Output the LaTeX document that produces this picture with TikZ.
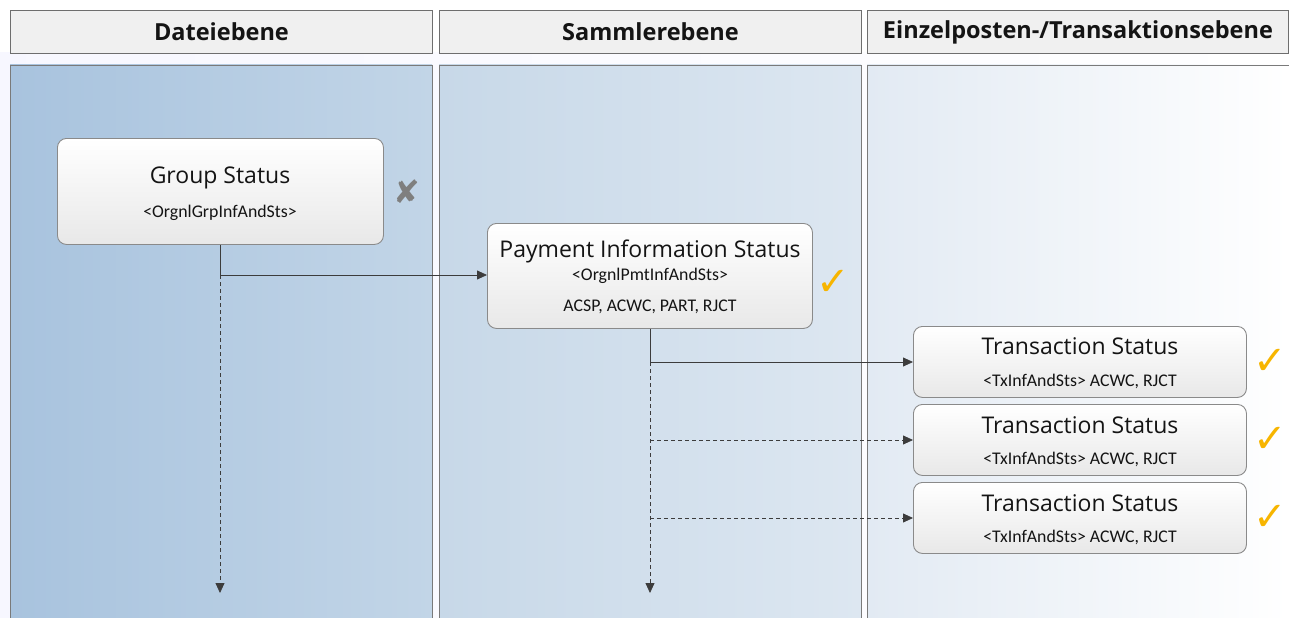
\documentclass[tikz,border=0pt]{standalone}
\usepackage{fontspec}
\setmainfont{Open Sans}
\newfontfamily\subfont{Carlito}
\newfontfamily\symfont{DejaVu Sans}
\usetikzlibrary{arrows.meta}
\definecolor{hdrfill}{HTML}{F0F0F0}
\definecolor{hdrline}{HTML}{6E6E6E}
\definecolor{colline}{HTML}{7A7A7A}
\definecolor{boxline}{HTML}{8A8A8A}
\definecolor{arrowc}{HTML}{3C3C3C}
\definecolor{okc}{HTML}{F7B500}
\definecolor{nokc}{HTML}{7F7F7F}
\definecolor{txtc}{HTML}{141414}
\tikzset{
  hdr/.style={draw=hdrline, fill=hdrfill, line width=0.9pt, minimum width=422pt, minimum height=43pt, anchor=north west, inner sep=0pt,
    text=txtc, font=\fontsize{23.5}{27}\selectfont\bfseries},
  lane/.style={draw=colline, line width=0.9pt},
  box/.style={draw=boxline, line width=0.9pt, rounded corners=9pt, top color=white, bottom color=black!9, anchor=north west, inner sep=0pt},
  ttl/.style={text=txtc, font=\fontsize{23}{27}\selectfont, inner sep=0pt, anchor=base},
  sub/.style={text=txtc, font=\subfont\fontsize{17.8}{21}\selectfont, inner sep=0pt, anchor=base},
  conn/.style={draw=arrowc, line width=0.8pt, -{Triangle[length=10pt,width=9pt]}},
  dconn/.style={conn, dash pattern=on 4pt off 3pt},
  ok/.style={text=okc, font=\symfont\fontsize{40}{44}\selectfont, inner sep=0pt},
  nok/.style={text=nokc, font=\symfont\fontsize{32}{36}\selectfont, inner sep=0pt},
}
\begin{document}
\begin{tikzpicture}[x=1pt,y=-1pt]
\useasboundingbox (0,0) rectangle (1291,618);
% background band
\shade[left color=black!6!blue!3, right color=white] (0,53) rectangle (1291,618);
% lanes
\shade[left color={rgb,255:red,168;green,195;blue,222}, right color={rgb,255:red,194;green,213;blue,231}] (10,65) rectangle (432,620);
\shade[left color={rgb,255:red,199;green,216;blue,232}, right color={rgb,255:red,221;green,231;blue,241}] (439,65) rectangle (861,620);
\shade[left color={rgb,255:red,226;green,234;blue,243}, right color=white] (867,65) rectangle (1289,620);
\draw[lane] (10,620) -- (10,65) -- (432,65) -- (432,620);
\draw[lane] (439,620) -- (439,65) -- (861,65) -- (861,620);
\draw[lane] (867,620) -- (867,65) -- (1289,65);
% headers
\node[hdr] (h1) at (10,10) {Dateiebene};
\node[hdr] (h2) at (439,10) {Sammlerebene};
\node[hdr, minimum width=421pt] (h3) at (867,10) {Einzelposten-/Transaktionsebene};
% boxes
\node[box, minimum width=326pt, minimum height=106pt] (gs) at (57,138) {};
\node[ttl] (gst) at (220,183) {Group Status};
\node[sub] (gss) at (220,217) {<OrgnlGrpInfAndSts>};
\node[nok] (gsx) at (407,192) {✘};

\node[box, minimum width=325pt, minimum height=105pt] (pi) at (487,223) {};
\node[ttl] (pit) at (650,257) {Payment Information Status};
\node[sub] (pis) at (650,280) {<OrgnlPmtInfAndSts>};
\node[sub] (pic) at (650,311) {ACSP, ACWC, PART, RJCT};
\node[ok] (pik) at (833,283) {✓};

\node[box, minimum width=333pt, minimum height=71pt] (t1) at (913,326) {};
\node[ttl] (t1t) at (1080,354) {Transaction Status};
\node[sub] (t1s) at (1080,386) {<TxInfAndSts> ACWC, RJCT};
\node[ok] (t1k) at (1270,362) {✓};

\node[box, minimum width=333pt, minimum height=71pt] (t2) at (913,404) {};
\node[ttl] (t2t) at (1080,433) {Transaction Status};
\node[sub] (t2s) at (1080,464) {<TxInfAndSts> ACWC, RJCT};
\node[ok] (t2k) at (1270,440) {✓};

\node[box, minimum width=333pt, minimum height=71pt] (t3) at (913,482) {};
\node[ttl] (t3t) at (1080,511) {Transaction Status};
\node[sub] (t3s) at (1080,542) {<TxInfAndSts> ACWC, RJCT};
\node[ok] (t3k) at (1270,518) {✓};

% connector coordinates
\coordinate (j1) at (220,275);
\coordinate (e1) at (220,593);
\coordinate (j2) at (650,362);
\coordinate (e2) at (650,593);
\coordinate (b2) at (650,440);
\coordinate (b3) at (650,518);

\draw[conn] (gs.south -| j1) -- (j1) -- (j1 -| pi.west);
\draw[dconn] (j1) -- (e1);
\draw[conn] (pi.south -| j2) -- (j2) -- (j2 -| t1.west);
\draw[dconn] (j2) -- (e2);
\draw[dconn] (b2) -- (b2 -| t2.west);
\draw[dconn] (b3) -- (b3 -| t3.west);
\end{tikzpicture}
\end{document}
